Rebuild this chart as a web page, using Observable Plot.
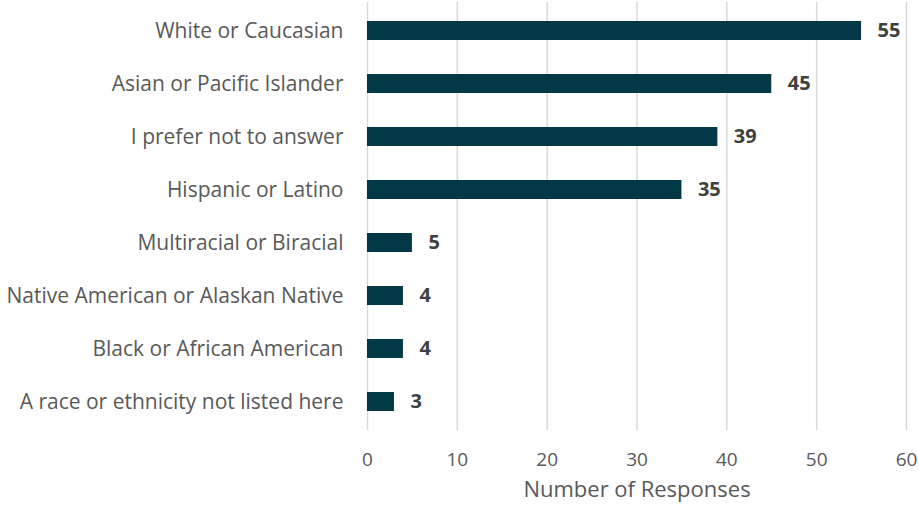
<!DOCTYPE html>
<html>
<head>
<meta charset="utf-8">
<script src="https://cdn.jsdelivr.net/npm/d3@7"></script>
<script src="https://cdn.jsdelivr.net/npm/@observablehq/plot@0.6"></script>
<style>
  html, body { margin: 0; padding: 0; background: #fff; }
  #chart svg { display: block; }
</style>
</head>
<body>
<div id="chart"></div>
<script>
const categories = [
  "White or Caucasian",
  "Asian or Pacific Islander",
  "I prefer not to answer",
  "Hispanic or Latino",
  "Multiracial or Biracial",
  "Native American or Alaskan Native",
  "Black or African American",
  "A race or ethnicity not listed here"
];
const responses = [55, 45, 39, 35, 5, 4, 4, 3];
const xTicks = [0, 10, 20, 30, 40, 50, 60];
const xTitle = "Number of Responses";

const data = categories.map((c, i) => ({category: c, value: responses[i]}));
const font = "'Open Sans', sans-serif";

const chart = Plot.plot({
  width: 919,
  height: 514,
  marginLeft: 367,
  marginRight: 13,
  marginTop: 2,
  marginBottom: 84,
  style: {fontFamily: font, background: "#fff"},
  x: {domain: [0, 60], ticks: xTicks},
  y: {domain: categories, padding: 0.645, paddingOuter: 0.3225},
  marks: [
    Plot.gridX(xTicks, {stroke: "#d9d9d9", strokeOpacity: 1, strokeWidth: 1.5}),
    Plot.barX(data, {y: "category", x: "value", fill: "#033947"}),
    Plot.text(data, {y: "category", x: "value", text: d => String(d.value), textAnchor: "start", dx: 16, fontSize: 20, fontWeight: "bold", fill: "#404040"}),
    Plot.axisX({ticks: xTicks, tickSize: 0, tickPadding: 22, fontSize: 19, color: "#595959", label: null}),
    Plot.axisY({tickSize: 0, tickPadding: 24, fontSize: 21, color: "#595959", label: null}),
    Plot.text([xTitle], {frameAnchor: "bottom", dy: 66, fontSize: 22, fill: "#595959"})
  ]
});
document.getElementById("chart").appendChild(chart);
</script>
</body>
</html>
